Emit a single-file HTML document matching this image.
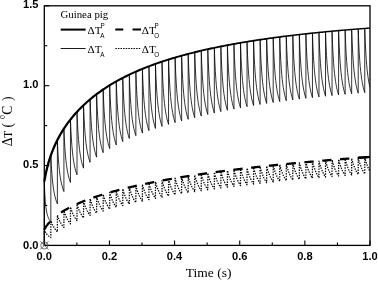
<!DOCTYPE html>
<html><head><meta charset="utf-8"><title>Guinea pig</title>
<style>
html,body{margin:0;padding:0;background:#fff;}
body{width:378px;height:281px;overflow:hidden;}
svg{display:block;will-change:transform;}
.tk text{font-family:"Liberation Sans",sans-serif;font-weight:bold;font-size:11.1px;fill:#000;}
.sf{font-family:"Liberation Serif",serif;fill:#000;}
.ss{font-family:"Liberation Sans",sans-serif;fill:#000;}
</style></head><body>
<svg width="378" height="281" viewBox="0 0 378 281">
<rect width="378" height="281" fill="#fff"/>
<g fill="none" stroke="#000" stroke-linejoin="round">
<path stroke-width="0.8" d="M44.30,245.40 L44.30,181.50 L44.80,194.08 L45.31,201.56 L45.81,206.51 L46.31,210.03 L46.82,212.66 L47.32,214.70 L47.82,216.33 L48.32,217.66 L48.83,218.77 L49.33,219.71 L49.83,220.51 L50.34,221.21 L50.84,221.82 L50.84,155.38 L51.34,165.64 L51.85,173.29 L52.35,179.21 L52.85,183.93 L53.36,187.78 L53.86,190.98 L54.36,193.68 L54.86,195.99 L55.37,197.99 L55.87,199.74 L56.37,201.28 L56.88,202.65 L57.38,203.87 L57.38,139.99 L57.88,150.91 L58.39,159.05 L58.89,165.35 L59.39,170.37 L59.90,174.47 L60.40,177.87 L60.90,180.75 L61.40,183.21 L61.91,185.34 L62.41,187.20 L62.91,188.83 L63.42,190.29 L63.92,191.59 L63.92,128.66 L64.42,140.05 L64.93,148.54 L65.43,155.12 L65.93,160.35 L66.44,164.63 L66.94,168.18 L67.44,171.18 L67.94,173.74 L68.45,175.96 L68.95,177.90 L69.45,179.61 L69.96,181.13 L70.46,182.49 L70.46,119.55 L70.96,131.25 L71.47,139.97 L71.97,146.72 L72.47,152.09 L72.98,156.48 L73.48,160.13 L73.98,163.20 L74.48,165.84 L74.99,168.12 L75.49,170.11 L75.99,171.86 L76.50,173.42 L77.00,174.82 L77.00,111.88 L77.50,123.79 L78.01,132.67 L78.51,139.54 L79.01,145.02 L79.52,149.49 L80.02,153.20 L80.52,156.34 L81.02,159.02 L81.53,161.34 L82.03,163.37 L82.53,165.15 L83.04,166.74 L83.54,168.16 L83.54,105.23 L84.04,117.31 L84.55,126.31 L85.05,133.28 L85.55,138.83 L86.06,143.36 L86.56,147.13 L87.06,150.31 L87.56,153.03 L88.07,155.38 L88.57,157.44 L89.07,159.25 L89.58,160.86 L90.08,162.30 L90.08,99.37 L90.58,111.60 L91.09,120.72 L91.59,127.78 L92.09,133.41 L92.60,138.00 L93.10,141.81 L93.60,145.03 L94.10,147.79 L94.61,150.17 L95.11,152.26 L95.61,154.09 L96.12,155.72 L96.62,157.18 L96.62,94.15 L97.12,106.54 L97.63,115.77 L98.13,122.92 L98.63,128.61 L99.14,133.26 L99.64,137.12 L100.14,140.38 L100.64,143.17 L101.15,145.58 L101.65,147.69 L102.15,149.55 L102.66,151.20 L103.16,152.67 L103.16,89.48 L103.66,102.00 L104.17,111.32 L104.67,118.55 L105.17,124.30 L105.68,128.99 L106.18,132.90 L106.68,136.19 L107.18,139.01 L107.69,141.45 L108.19,143.58 L108.69,145.46 L109.20,147.13 L109.70,148.62 L109.70,85.25 L110.20,97.88 L110.71,107.30 L111.21,114.59 L111.71,120.40 L112.22,125.13 L112.72,129.07 L113.22,132.40 L113.72,135.24 L114.23,137.70 L114.73,139.85 L115.23,141.75 L115.74,143.43 L116.24,144.94 L116.24,81.40 L116.74,94.14 L117.25,103.64 L117.75,110.98 L118.25,116.84 L118.76,121.62 L119.26,125.59 L119.76,128.94 L120.26,131.81 L120.77,134.29 L121.27,136.46 L121.77,138.37 L122.28,140.07 L122.78,141.59 L122.78,77.88 L123.28,90.71 L123.79,100.28 L124.29,107.68 L124.79,113.59 L125.30,118.40 L125.80,122.40 L126.30,125.78 L126.80,128.67 L127.31,131.17 L127.81,133.35 L128.31,135.28 L128.82,136.99 L129.32,138.52 L129.32,74.64 L129.82,87.56 L130.33,97.20 L130.83,104.65 L131.33,110.59 L131.84,115.44 L132.34,119.47 L132.84,122.87 L133.34,125.78 L133.85,128.30 L134.35,130.50 L134.85,132.44 L135.36,134.16 L135.86,135.70 L135.86,71.65 L136.36,84.65 L136.87,94.35 L137.37,101.85 L137.87,107.83 L138.38,112.71 L138.88,116.76 L139.38,120.18 L139.88,123.11 L140.39,125.65 L140.89,127.86 L141.39,129.81 L141.90,131.54 L142.40,133.09 L142.40,68.87 L142.90,81.96 L143.41,91.71 L143.91,99.25 L144.41,105.27 L144.92,110.17 L145.42,114.25 L145.92,117.70 L146.42,120.64 L146.93,123.19 L147.43,125.42 L147.93,127.38 L148.44,129.13 L148.94,130.68 L148.94,66.29 L149.44,79.45 L149.95,89.25 L150.45,96.84 L150.95,102.89 L151.46,107.82 L151.96,111.92 L152.46,115.39 L152.96,118.35 L153.47,120.91 L153.97,123.15 L154.47,125.13 L154.98,126.88 L155.48,128.45 L155.48,63.88 L155.98,77.11 L156.49,86.97 L156.99,94.59 L157.49,100.67 L158.00,105.63 L158.50,109.76 L159.00,113.24 L159.50,116.22 L160.01,118.79 L160.51,121.04 L161.01,123.03 L161.52,124.79 L162.02,126.37 L162.02,61.63 L162.52,74.92 L163.03,84.83 L163.53,92.50 L164.03,98.61 L164.54,103.59 L165.04,107.73 L165.54,111.23 L166.04,114.23 L166.55,116.82 L167.05,119.08 L167.55,121.07 L168.06,122.84 L168.56,124.43 L168.56,59.52 L169.06,72.88 L169.57,82.83 L170.07,90.53 L170.57,96.67 L171.08,101.68 L171.58,105.84 L172.08,109.36 L172.58,112.37 L173.09,114.97 L173.59,117.24 L174.09,119.25 L174.60,121.03 L175.10,122.62 L175.10,57.54 L175.60,70.95 L176.11,80.95 L176.61,88.69 L177.11,94.86 L177.62,99.89 L178.12,104.07 L178.62,107.60 L179.12,110.62 L179.63,113.24 L180.13,115.52 L180.63,117.54 L181.14,119.32 L181.64,120.92 L181.64,55.67 L182.14,69.15 L182.65,79.19 L183.15,86.96 L183.65,93.16 L184.16,98.21 L184.66,102.41 L185.16,105.96 L185.66,108.99 L186.17,111.62 L186.67,113.91 L187.17,115.93 L187.68,117.73 L188.18,119.33 L188.18,53.91 L188.68,67.42 L189.19,77.48 L189.69,85.27 L190.19,91.48 L190.70,96.54 L191.20,100.75 L191.70,104.30 L192.20,107.34 L192.71,109.97 L193.21,112.27 L193.71,114.30 L194.22,116.10 L194.72,117.71 L194.72,52.25 L195.22,65.76 L195.73,75.83 L196.23,83.62 L196.73,89.83 L197.24,94.90 L197.74,99.11 L198.24,102.66 L198.74,105.70 L199.25,108.34 L199.75,110.64 L200.25,112.66 L200.76,114.46 L201.26,116.07 L201.26,50.68 L201.76,64.20 L202.27,74.27 L202.77,82.06 L203.27,88.27 L203.78,93.34 L204.28,97.55 L204.78,101.11 L205.28,104.15 L205.79,106.78 L206.29,109.08 L206.79,111.11 L207.30,112.91 L207.80,114.52 L207.80,49.20 L208.30,62.71 L208.81,72.79 L209.31,80.58 L209.81,86.79 L210.32,91.86 L210.82,96.08 L211.32,99.63 L211.82,102.68 L212.33,105.31 L212.83,107.61 L213.33,109.64 L213.84,111.44 L214.34,113.05 L214.34,47.79 L214.84,61.31 L215.35,71.38 L215.85,79.18 L216.35,85.39 L216.86,90.46 L217.36,94.67 L217.86,98.23 L218.36,101.27 L218.87,103.91 L219.37,106.21 L219.87,108.24 L220.38,110.04 L220.88,111.65 L220.88,46.45 L221.38,59.97 L221.89,70.04 L222.39,77.84 L222.89,84.05 L223.40,89.12 L223.90,93.34 L224.40,96.89 L224.90,99.94 L225.41,102.57 L225.91,104.87 L226.41,106.90 L226.92,108.70 L227.42,110.31 L227.42,45.18 L227.92,58.70 L228.43,68.77 L228.93,76.57 L229.43,82.78 L229.94,87.85 L230.44,92.06 L230.94,95.62 L231.44,98.66 L231.95,101.30 L232.45,103.60 L232.95,105.63 L233.46,107.43 L233.96,109.04 L233.96,43.97 L234.46,57.49 L234.97,67.56 L235.47,75.36 L235.97,81.57 L236.48,86.64 L236.98,90.85 L237.48,94.41 L237.98,97.45 L238.49,100.08 L238.99,102.38 L239.49,104.41 L240.00,106.21 L240.50,107.82 L240.50,42.82 L241.00,56.33 L241.51,66.40 L242.01,74.20 L242.51,80.41 L243.02,85.48 L243.52,89.69 L244.02,93.25 L244.52,96.29 L245.03,98.92 L245.53,101.22 L246.03,103.25 L246.54,105.05 L247.04,106.66 L247.04,41.72 L247.54,55.23 L248.05,65.30 L248.55,73.10 L249.05,79.31 L249.56,84.37 L250.06,88.59 L250.56,92.14 L251.06,95.18 L251.57,97.82 L252.07,100.12 L252.57,102.14 L253.08,103.94 L253.58,105.55 L253.58,40.68 L254.08,54.18 L254.59,64.25 L255.09,72.04 L255.59,78.25 L256.10,83.32 L256.60,87.53 L257.10,91.08 L257.60,94.12 L258.11,96.76 L258.61,99.06 L259.11,101.08 L259.62,102.88 L260.12,104.49 L260.12,39.68 L260.62,53.18 L261.13,63.25 L261.63,71.04 L262.13,77.24 L262.64,82.31 L263.14,86.52 L263.64,90.07 L264.14,93.11 L264.65,95.74 L265.15,98.04 L265.65,100.07 L266.16,101.87 L266.66,103.47 L266.66,38.73 L267.16,52.23 L267.67,62.29 L268.17,70.07 L268.67,76.28 L269.18,81.34 L269.68,85.55 L270.18,89.10 L270.68,92.14 L271.19,94.77 L271.69,97.07 L272.19,99.10 L272.70,100.90 L273.20,102.50 L273.20,37.82 L273.70,51.32 L274.21,61.38 L274.71,69.17 L275.21,75.37 L275.72,80.44 L276.22,84.64 L276.72,88.20 L277.22,91.24 L277.73,93.87 L278.23,96.17 L278.73,98.19 L279.24,99.99 L279.74,101.60 L279.74,36.94 L280.24,50.45 L280.75,60.51 L281.25,68.30 L281.75,74.51 L282.26,79.57 L282.76,83.78 L283.26,87.33 L283.76,90.37 L284.27,93.00 L284.77,95.30 L285.27,97.33 L285.78,99.13 L286.28,100.74 L286.28,36.11 L286.78,49.62 L287.29,59.68 L287.79,67.47 L288.29,73.68 L288.80,78.74 L289.30,82.95 L289.80,86.50 L290.30,89.54 L290.81,92.17 L291.31,94.47 L291.81,96.50 L292.32,98.30 L292.82,99.91 L292.82,35.31 L293.32,48.82 L293.83,58.88 L294.33,66.67 L294.83,72.88 L295.34,77.94 L295.84,82.15 L296.34,85.71 L296.84,88.75 L297.35,91.38 L297.85,93.68 L298.35,95.70 L298.86,97.50 L299.36,99.11 L299.36,34.55 L299.86,48.06 L300.37,58.12 L300.87,65.91 L301.37,72.12 L301.88,77.18 L302.38,81.39 L302.88,84.94 L303.38,87.98 L303.89,90.61 L304.39,92.91 L304.89,94.94 L305.40,96.74 L305.90,98.35 L305.90,33.82 L306.40,47.32 L306.91,57.39 L307.41,65.18 L307.91,71.38 L308.42,76.45 L308.92,80.66 L309.42,84.21 L309.92,87.25 L310.43,89.88 L310.93,92.18 L311.43,94.21 L311.94,96.01 L312.44,97.61 L312.44,33.12 L312.94,46.62 L313.45,56.69 L313.95,64.47 L314.45,70.68 L314.96,75.74 L315.46,79.95 L315.96,83.51 L316.46,86.55 L316.97,89.18 L317.47,91.48 L317.97,93.50 L318.48,95.30 L318.98,96.91 L318.98,32.45 L319.48,45.95 L319.99,56.01 L320.49,63.80 L320.99,70.01 L321.50,75.07 L322.00,79.28 L322.50,82.83 L323.00,85.87 L323.51,88.50 L324.01,90.80 L324.51,92.83 L325.02,94.63 L325.52,96.23 L325.52,31.80 L326.02,45.30 L326.53,55.37 L327.03,63.15 L327.53,69.36 L328.04,74.42 L328.54,78.63 L329.04,82.18 L329.54,85.22 L330.05,87.85 L330.55,90.15 L331.05,92.18 L331.56,93.98 L332.06,95.58 L332.06,31.18 L332.56,44.68 L333.07,54.74 L333.57,62.53 L334.07,68.74 L334.58,73.80 L335.08,78.01 L335.58,81.56 L336.08,84.60 L336.59,87.23 L337.09,89.53 L337.59,91.55 L338.10,93.35 L338.60,94.96 L338.60,30.59 L339.10,44.09 L339.61,54.15 L340.11,61.93 L340.61,68.14 L341.12,73.20 L341.62,77.41 L342.12,80.96 L342.62,84.00 L343.13,86.63 L343.63,88.93 L344.13,90.95 L344.64,92.75 L345.14,94.36 L345.14,30.02 L345.64,43.52 L346.15,53.58 L346.65,61.36 L347.15,67.56 L347.66,72.62 L348.16,76.83 L348.66,80.38 L349.16,83.42 L349.67,86.05 L350.17,88.35 L350.67,90.37 L351.18,92.17 L351.68,93.78 L351.68,29.48 L352.18,42.97 L352.69,53.03 L353.19,60.81 L353.69,67.01 L354.20,72.07 L354.70,76.28 L355.20,79.83 L355.70,82.87 L356.21,85.49 L356.71,87.79 L357.21,89.82 L357.72,91.61 L358.22,93.22 L358.22,28.95 L358.72,42.44 L359.23,52.50 L359.73,60.28 L360.23,66.48 L360.74,71.54 L361.24,75.74 L361.74,79.29 L362.24,82.33 L362.75,84.96 L363.25,87.26 L363.75,89.28 L364.26,91.08 L364.76,92.69 L364.76,28.45 L365.26,41.94 L365.77,51.99 L366.27,59.77 L366.77,65.97 L367.28,71.03 L367.78,75.23 L368.28,78.78 L368.78,81.82 L369.29,84.45 L369.79,86.75"/>
<path stroke-width="1.25" stroke-dasharray="1.4 1.2" d="M44.30,245.40 L44.30,229.43 L45.23,231.68 L46.17,233.31 L47.10,234.55 L48.04,235.51 L48.97,236.29 L49.91,236.93 L50.84,237.47 L50.84,220.86 L51.77,223.23 L52.71,225.23 L53.64,226.93 L54.58,228.39 L55.51,229.67 L56.45,230.79 L57.38,231.78 L57.38,215.17 L58.31,217.82 L59.25,220.05 L60.18,221.95 L61.12,223.59 L62.05,225.02 L62.99,226.27 L63.92,227.38 L63.92,210.77 L64.85,213.59 L65.79,215.96 L66.72,217.98 L67.66,219.72 L68.59,221.23 L69.53,222.57 L70.46,223.75 L70.46,207.13 L71.39,210.06 L72.33,212.53 L73.26,214.62 L74.20,216.43 L75.13,218.01 L76.07,219.39 L77.00,220.61 L77.00,204.00 L77.93,207.01 L78.87,209.54 L79.80,211.70 L80.74,213.55 L81.67,215.17 L82.61,216.59 L83.54,217.85 L83.54,201.24 L84.47,204.31 L85.41,206.89 L86.34,209.09 L87.28,210.99 L88.21,212.64 L89.15,214.09 L90.08,215.37 L90.08,198.76 L91.01,201.88 L91.95,204.50 L92.88,206.73 L93.82,208.66 L94.75,210.33 L95.69,211.81 L96.62,213.11 L96.62,196.50 L97.55,199.66 L98.49,202.31 L99.42,204.57 L100.36,206.52 L101.29,208.22 L102.23,209.71 L103.16,211.03 L103.16,194.42 L104.09,197.61 L105.03,200.30 L105.96,202.58 L106.90,204.55 L107.83,206.26 L108.77,207.77 L109.70,209.11 L109.70,192.49 L110.63,195.71 L111.57,198.42 L112.50,200.72 L113.44,202.71 L114.37,204.44 L115.31,205.96 L116.24,207.31 L116.24,190.69 L117.17,193.94 L118.11,196.66 L119.04,198.98 L119.98,200.98 L120.91,202.73 L121.85,204.26 L122.78,205.62 L122.78,189.00 L123.71,192.27 L124.65,195.01 L125.58,197.35 L126.52,199.36 L127.45,201.11 L128.39,202.66 L129.32,204.02 L129.32,187.41 L130.25,190.69 L131.19,193.45 L132.12,195.80 L133.06,197.82 L133.99,199.59 L134.93,201.14 L135.86,202.51 L135.86,185.90 L136.79,189.20 L137.73,191.97 L138.66,194.33 L139.60,196.37 L140.53,198.14 L141.47,199.70 L142.40,201.08 L142.40,184.46 L143.33,187.78 L144.27,190.56 L145.20,192.94 L146.14,194.98 L147.07,196.76 L148.01,198.33 L148.94,199.71 L148.94,183.10 L149.87,186.43 L150.81,189.23 L151.74,191.61 L152.68,193.66 L153.61,195.45 L154.55,197.02 L155.48,198.41 L155.48,181.80 L156.41,185.14 L157.35,187.95 L158.28,190.34 L159.22,192.40 L160.15,194.20 L161.09,195.78 L162.02,197.17 L162.02,180.56 L162.95,183.91 L163.89,186.73 L164.82,189.13 L165.76,191.20 L166.69,193.00 L167.63,194.58 L168.56,195.99 L168.56,179.37 L169.49,182.74 L170.43,185.56 L171.36,187.97 L172.30,190.05 L173.23,191.85 L174.17,193.44 L175.10,194.85 L175.10,178.24 L176.03,181.61 L176.97,184.44 L177.90,186.86 L178.84,188.94 L179.77,190.75 L180.71,192.35 L181.64,193.76 L181.64,177.15 L182.57,180.53 L183.51,183.37 L184.44,185.79 L185.38,187.88 L186.31,189.70 L187.25,191.29 L188.18,192.71 L188.18,176.10 L189.11,179.49 L190.05,182.34 L190.98,184.77 L191.92,186.86 L192.85,188.68 L193.79,190.28 L194.72,191.70 L194.72,175.09 L195.65,178.49 L196.59,181.35 L197.52,183.78 L198.46,185.88 L199.39,187.70 L200.33,189.31 L201.26,190.73 L201.26,174.12 L202.19,177.53 L203.13,180.39 L204.06,182.83 L205.00,184.93 L205.93,186.76 L206.87,188.37 L207.80,189.79 L207.80,173.18 L208.73,176.60 L209.67,179.46 L210.60,181.91 L211.54,184.01 L212.47,185.85 L213.41,187.46 L214.34,188.89 L214.34,172.28 L215.27,175.70 L216.21,178.57 L217.14,181.02 L218.08,183.13 L219.01,184.97 L219.95,186.59 L220.88,188.02 L220.88,171.40 L221.81,174.83 L222.75,177.71 L223.68,180.16 L224.62,182.28 L225.55,184.12 L226.49,185.74 L227.42,187.17 L227.42,170.56 L228.35,173.99 L229.29,176.88 L230.22,179.33 L231.16,181.45 L232.09,183.30 L233.03,184.92 L233.96,186.35 L233.96,169.74 L234.89,173.18 L235.83,176.07 L236.76,178.53 L237.70,180.65 L238.63,182.50 L239.57,184.12 L240.50,185.56 L240.50,168.95 L241.43,172.39 L242.37,175.29 L243.30,177.75 L244.24,179.88 L245.17,181.73 L246.11,183.35 L247.04,184.79 L247.04,168.18 L247.97,171.63 L248.91,174.53 L249.84,177.00 L250.78,179.12 L251.71,180.98 L252.65,182.61 L253.58,184.05 L253.58,167.44 L254.51,170.89 L255.45,173.79 L256.38,176.26 L257.32,178.39 L258.25,180.25 L259.19,181.88 L260.12,183.32 L260.12,166.71 L261.05,170.17 L261.99,173.08 L262.92,175.55 L263.86,177.68 L264.79,179.54 L265.73,181.17 L266.66,182.62 L266.66,166.01 L267.59,169.47 L268.53,172.38 L269.46,174.86 L270.40,176.99 L271.33,178.85 L272.27,180.49 L273.20,181.94 L273.20,165.32 L274.13,168.79 L275.07,171.70 L276.00,174.18 L276.94,176.32 L277.87,178.18 L278.81,179.82 L279.74,181.27 L279.74,164.66 L280.67,168.13 L281.61,171.04 L282.54,173.53 L283.48,175.67 L284.41,177.53 L285.35,179.17 L286.28,180.62 L286.28,164.01 L287.21,167.49 L288.15,170.40 L289.08,172.89 L290.02,175.03 L290.95,176.90 L291.89,178.54 L292.82,179.99 L292.82,163.38 L293.75,166.86 L294.69,169.78 L295.62,172.27 L296.56,174.41 L297.49,176.28 L298.43,177.92 L299.36,179.38 L299.36,162.76 L300.29,166.25 L301.23,169.17 L302.16,171.66 L303.10,173.81 L304.03,175.68 L304.97,177.32 L305.90,178.78 L305.90,162.17 L306.83,165.65 L307.77,168.58 L308.70,171.07 L309.64,173.22 L310.57,175.09 L311.51,176.74 L312.44,178.19 L312.44,161.58 L313.37,165.07 L314.31,168.00 L315.24,170.49 L316.18,172.64 L317.11,174.52 L318.05,176.16 L318.98,177.62 L318.98,161.01 L319.91,164.50 L320.85,167.43 L321.78,169.93 L322.72,172.08 L323.65,173.96 L324.59,175.60 L325.52,177.06 L325.52,160.45 L326.45,163.94 L327.39,166.88 L328.32,169.38 L329.26,171.53 L330.19,173.41 L331.13,175.06 L332.06,176.52 L332.06,159.91 L332.99,163.40 L333.93,166.34 L334.86,168.84 L335.80,171.00 L336.73,172.87 L337.67,174.52 L338.60,175.99 L338.60,159.37 L339.53,162.87 L340.47,165.81 L341.40,168.31 L342.34,170.47 L343.27,172.35 L344.21,174.00 L345.14,175.47 L345.14,158.85 L346.07,162.35 L347.01,165.29 L347.94,167.80 L348.88,169.96 L349.81,171.84 L350.75,173.49 L351.68,174.96 L351.68,158.34 L352.61,161.85 L353.55,164.79 L354.48,167.30 L355.42,169.46 L356.35,171.34 L357.29,172.99 L358.22,174.46 L358.22,157.85 L359.15,161.35 L360.09,164.30 L361.02,166.80 L361.96,168.97 L362.89,170.85 L363.83,172.51 L364.76,173.97 L364.76,157.36 L365.69,160.87 L366.63,163.81 L367.56,166.32 L368.50,168.49 L369.43,170.37"/>
<path stroke="none" fill="#000" d="M45.43,181.71 L46.52,175.77 L47.60,170.76 L48.68,166.39 L49.76,162.50 L50.83,158.98 L51.91,155.76 L52.99,152.79 L54.07,150.03 L55.15,147.44 L56.23,145.00 L57.30,142.70 L58.38,140.52 L59.46,138.44 L60.54,136.45 L61.61,134.55 L62.69,132.73 L63.77,130.98 L64.85,129.29 L65.93,127.66 L67.00,126.09 L68.08,124.56 L69.16,123.09 L70.24,121.65 L71.32,120.26 L72.40,118.91 L73.48,117.59 L74.55,116.31 L75.63,115.06 L76.71,113.84 L77.79,112.65 L78.87,111.49 L79.95,110.35 L81.03,109.24 L82.11,108.15 L83.19,107.09 L84.27,106.04 L85.35,105.02 L86.43,104.02 L87.51,103.04 L88.59,102.08 L89.67,101.14 L90.75,100.22 L91.83,99.32 L92.91,98.43 L93.99,97.56 L95.07,96.70 L96.15,95.86 L97.24,95.04 L98.32,94.23 L99.40,93.44 L100.48,92.65 L101.56,91.89 L102.64,91.13 L103.72,90.39 L104.80,89.66 L105.89,88.94 L106.97,88.23 L108.05,87.54 L109.13,86.85 L110.21,86.18 L111.30,85.51 L112.38,84.86 L113.46,84.22 L114.54,83.58 L115.63,82.96 L116.71,82.34 L117.79,81.74 L118.87,81.14 L119.96,80.55 L121.04,79.97 L122.12,79.39 L123.21,78.83 L124.29,78.27 L125.37,77.72 L126.46,77.18 L127.54,76.65 L128.63,76.12 L129.71,75.60 L130.79,75.08 L131.88,74.57 L132.96,74.07 L134.05,73.58 L135.13,73.09 L136.21,72.61 L137.30,72.13 L138.38,71.66 L139.47,71.20 L140.55,70.74 L141.64,70.28 L142.72,69.84 L143.81,69.39 L144.89,68.95 L145.98,68.52 L147.06,68.09 L148.15,67.67 L149.23,67.25 L150.32,66.84 L151.40,66.43 L152.49,66.03 L153.57,65.63 L154.66,65.24 L155.74,64.85 L156.83,64.46 L157.91,64.08 L159.00,63.70 L160.08,63.33 L161.17,62.96 L162.26,62.59 L163.34,62.23 L164.43,61.87 L165.51,61.52 L166.60,61.17 L167.69,60.82 L168.77,60.48 L169.86,60.14 L170.94,59.80 L172.03,59.47 L173.12,59.14 L174.20,58.82 L175.29,58.49 L176.38,58.17 L177.46,57.86 L178.55,57.54 L179.63,57.23 L180.72,56.93 L181.81,56.62 L182.89,56.32 L183.98,56.02 L185.07,55.73 L186.15,55.44 L187.24,55.15 L188.33,54.86 L189.41,54.57 L190.50,54.29 L191.59,54.01 L192.68,53.74 L193.76,53.46 L194.85,53.19 L195.94,52.92 L197.02,52.66 L198.11,52.39 L199.20,52.13 L200.28,51.87 L201.37,51.62 L202.46,51.36 L203.55,51.11 L204.63,50.86 L205.72,50.61 L206.81,50.37 L207.89,50.12 L208.98,49.88 L210.07,49.64 L211.16,49.41 L212.24,49.17 L213.33,48.94 L214.42,48.71 L215.51,48.48 L216.59,48.25 L217.68,48.03 L218.77,47.80 L219.86,47.58 L220.94,47.36 L222.03,47.14 L223.12,46.93 L224.21,46.71 L225.29,46.50 L226.38,46.29 L227.47,46.08 L228.56,45.88 L229.64,45.67 L230.73,45.47 L231.82,45.27 L232.91,45.06 L234.00,44.87 L235.08,44.67 L236.17,44.47 L237.26,44.28 L238.35,44.09 L239.43,43.90 L240.52,43.71 L241.61,43.52 L242.70,43.33 L243.79,43.15 L244.87,42.97 L245.96,42.78 L247.05,42.60 L248.14,42.42 L249.23,42.25 L250.31,42.07 L251.40,41.89 L252.49,41.72 L253.58,41.55 L254.67,41.38 L255.75,41.21 L256.84,41.04 L257.93,40.87 L259.02,40.71 L260.11,40.54 L261.19,40.38 L262.28,40.22 L263.37,40.06 L264.46,39.90 L265.55,39.74 L266.64,39.58 L267.72,39.42 L268.81,39.27 L269.90,39.12 L270.99,38.96 L272.08,38.81 L273.17,38.66 L274.25,38.51 L275.34,38.36 L276.43,38.22 L277.52,38.07 L278.61,37.93 L279.69,37.78 L280.78,37.64 L281.87,37.50 L282.96,37.36 L284.05,37.22 L285.14,37.08 L286.23,36.94 L287.31,36.80 L288.40,36.67 L289.49,36.53 L290.58,36.40 L291.67,36.27 L292.76,36.14 L293.84,36.00 L294.93,35.87 L296.02,35.74 L297.11,35.62 L298.20,35.49 L299.29,35.36 L300.37,35.24 L301.46,35.11 L302.55,34.99 L303.64,34.87 L304.73,34.74 L305.82,34.62 L306.91,34.50 L307.99,34.38 L309.08,34.26 L310.17,34.15 L311.26,34.03 L312.35,33.91 L313.44,33.80 L314.53,33.68 L315.61,33.57 L316.70,33.46 L317.79,33.34 L318.88,33.23 L319.97,33.12 L321.06,33.01 L322.15,32.90 L323.23,32.79 L324.32,32.69 L325.41,32.58 L326.50,32.47 L327.59,32.37 L328.68,32.26 L329.77,32.16 L330.86,32.05 L331.94,31.95 L333.03,31.85 L334.12,31.75 L335.21,31.65 L336.30,31.55 L337.39,31.45 L338.48,31.35 L339.56,31.25 L340.65,31.15 L341.74,31.06 L342.83,30.96 L343.92,30.87 L345.01,30.77 L346.10,30.68 L347.19,30.58 L348.27,30.49 L349.36,30.40 L350.45,30.31 L351.54,30.22 L352.63,30.12 L353.72,30.03 L354.81,29.95 L355.90,29.86 L356.99,29.77 L358.07,29.68 L359.16,29.59 L360.25,29.51 L361.34,29.42 L362.43,29.34 L363.52,29.25 L364.61,29.17 L365.70,29.08 L366.78,29.00 L367.87,28.92 L368.96,28.84 L370.05,28.76 L369.95,27.36 L368.86,27.44 L367.77,27.52 L366.68,27.60 L365.59,27.68 L364.50,27.76 L363.41,27.84 L362.32,27.92 L361.23,28.00 L360.14,28.08 L359.05,28.17 L357.96,28.25 L356.87,28.34 L355.78,28.42 L354.69,28.51 L353.60,28.59 L352.51,28.68 L351.42,28.77 L350.33,28.86 L349.24,28.95 L348.15,29.04 L347.06,29.13 L345.97,29.22 L344.88,29.31 L343.79,29.40 L342.70,29.49 L341.61,29.58 L340.52,29.68 L339.43,29.77 L338.34,29.87 L337.25,29.96 L336.16,30.06 L335.07,30.16 L333.98,30.26 L332.90,30.35 L331.81,30.45 L330.72,30.55 L329.63,30.65 L328.54,30.75 L327.45,30.86 L326.36,30.96 L325.27,31.06 L324.18,31.17 L323.09,31.27 L322.00,31.38 L320.91,31.48 L319.82,31.59 L318.73,31.70 L317.64,31.81 L316.55,31.92 L315.46,32.03 L314.37,32.14 L313.28,32.25 L312.19,32.36 L311.10,32.48 L310.01,32.59 L308.92,32.70 L307.83,32.82 L306.74,32.94 L305.65,33.05 L304.56,33.17 L303.47,33.29 L302.38,33.41 L301.29,33.53 L300.20,33.65 L299.11,33.78 L298.01,33.90 L296.92,34.03 L295.83,34.15 L294.74,34.28 L293.65,34.40 L292.56,34.53 L291.47,34.66 L290.38,34.79 L289.29,34.92 L288.20,35.05 L287.11,35.19 L286.02,35.32 L284.93,35.46 L283.84,35.59 L282.75,35.73 L281.66,35.87 L280.57,36.01 L279.48,36.15 L278.39,36.29 L277.30,36.43 L276.21,36.57 L275.12,36.72 L274.03,36.86 L272.94,37.01 L271.85,37.16 L270.76,37.31 L269.67,37.46 L268.58,37.61 L267.49,37.76 L266.40,37.91 L265.31,38.07 L264.22,38.22 L263.13,38.38 L262.04,38.54 L260.95,38.70 L259.86,38.86 L258.76,39.02 L257.67,39.18 L256.58,39.35 L255.49,39.51 L254.40,39.68 L253.31,39.85 L252.22,40.02 L251.13,40.19 L250.04,40.36 L248.95,40.53 L247.86,40.71 L246.77,40.89 L245.68,41.06 L244.59,41.24 L243.50,41.42 L242.41,41.61 L241.32,41.79 L240.22,41.97 L239.13,42.16 L238.04,42.35 L236.95,42.54 L235.86,42.73 L234.77,42.92 L233.68,43.12 L232.59,43.31 L231.50,43.51 L230.41,43.71 L229.32,43.91 L228.23,44.12 L227.13,44.32 L226.04,44.53 L224.95,44.73 L223.86,44.94 L222.77,45.16 L221.68,45.37 L220.59,45.58 L219.50,45.80 L218.41,46.02 L217.32,46.24 L216.22,46.46 L215.13,46.69 L214.04,46.92 L212.95,47.14 L211.86,47.37 L210.77,47.61 L209.68,47.84 L208.59,48.08 L207.49,48.32 L206.40,48.56 L205.31,48.80 L204.22,49.05 L203.13,49.30 L202.04,49.55 L200.95,49.80 L199.85,50.05 L198.76,50.31 L197.67,50.57 L196.58,50.83 L195.49,51.10 L194.40,51.36 L193.31,51.63 L192.21,51.90 L191.12,52.18 L190.03,52.46 L188.94,52.74 L187.85,53.02 L186.75,53.30 L185.66,53.59 L184.57,53.88 L183.48,54.18 L182.39,54.47 L181.30,54.77 L180.20,55.07 L179.11,55.38 L178.02,55.69 L176.93,56.00 L175.83,56.31 L174.74,56.63 L173.65,56.95 L172.56,57.28 L171.47,57.61 L170.37,57.94 L169.28,58.27 L168.19,58.61 L167.10,58.95 L166.00,59.30 L164.91,59.65 L163.82,60.00 L162.72,60.36 L161.63,60.72 L160.54,61.08 L159.45,61.45 L158.35,61.82 L157.26,62.20 L156.17,62.58 L155.07,62.97 L153.98,63.36 L152.89,63.75 L151.79,64.15 L150.70,64.55 L149.61,64.96 L148.51,65.38 L147.42,65.79 L146.33,66.22 L145.23,66.64 L144.14,67.08 L143.05,67.51 L141.95,67.96 L140.86,68.41 L139.76,68.86 L138.67,69.32 L137.58,69.79 L136.48,70.26 L135.39,70.73 L134.29,71.22 L133.20,71.71 L132.11,72.20 L131.01,72.71 L129.92,73.22 L128.82,73.73 L127.73,74.25 L126.63,74.78 L125.54,75.32 L124.44,75.87 L123.35,76.42 L122.25,76.98 L121.16,77.55 L120.06,78.12 L118.97,78.71 L117.87,79.30 L116.77,79.90 L115.68,80.51 L114.58,81.13 L113.49,81.76 L112.39,82.40 L111.29,83.05 L110.20,83.70 L109.10,84.37 L108.01,85.05 L106.91,85.74 L105.81,86.44 L104.72,87.16 L103.62,87.88 L102.52,88.62 L101.42,89.37 L100.33,90.13 L99.23,90.91 L98.13,91.70 L97.04,92.50 L95.94,93.32 L94.84,94.15 L93.74,95.00 L92.64,95.87 L91.55,96.75 L90.45,97.65 L89.35,98.56 L88.25,99.49 L87.15,100.45 L86.05,101.42 L84.96,102.41 L83.86,103.42 L82.76,104.46 L81.66,105.51 L80.56,106.59 L79.46,107.70 L78.36,108.82 L77.26,109.98 L76.17,111.16 L75.07,112.37 L73.97,113.60 L72.87,114.87 L71.77,116.17 L70.67,117.51 L69.57,118.88 L68.47,120.30 L67.37,121.75 L66.27,123.25 L65.17,124.80 L64.07,126.41 L62.97,128.06 L61.87,129.78 L60.76,131.56 L59.66,133.42 L58.56,135.35 L57.46,137.38 L56.36,139.49 L55.26,141.72 L54.16,144.06 L53.06,146.54 L51.96,149.18 L50.86,151.99 L49.76,155.01 L48.66,158.29 L47.56,161.86 L46.46,165.81 L45.36,170.24 L44.26,175.32 L43.17,181.29Z"/>
<path stroke-width="2.3" d="M44.30,229.43 L45.11,228.07 L45.93,226.82 L46.74,225.67 L47.56,224.59 L48.37,223.59 L49.19,222.64 L50.00,221.74 L50.01,221.73"/><path stroke-width="2.3" stroke-dasharray="9.3 8.57" d="M61.03,212.60 L61.40,212.36 L62.21,211.83 L63.03,211.32 L63.84,210.82 L64.66,210.33 L65.47,209.85 L66.28,209.38 L67.10,208.93 L67.91,208.48 L68.73,208.04 L69.54,207.61 L70.36,207.19 L71.17,206.77 L71.98,206.36 L72.80,205.96 L73.61,205.57 L74.43,205.18 L75.24,204.80 L76.06,204.43 L76.87,204.06 L77.68,203.70 L78.50,203.34 L79.31,202.99 L80.13,202.64 L80.94,202.30 L81.76,201.96 L82.57,201.63 L83.38,201.30 L84.20,200.98 L85.01,200.66 L85.83,200.34 L86.64,200.03 L87.46,199.73 L88.27,199.42 L89.08,199.12 L89.90,198.82 L90.71,198.53 L91.53,198.24 L92.34,197.96 L93.16,197.67 L93.97,197.39 L94.78,197.11 L95.60,196.84 L96.41,196.57 L97.23,196.30 L98.04,196.03 L98.85,195.77 L99.67,195.51 L100.48,195.25 L101.30,195.00 L102.11,194.74 L102.93,194.49 L103.74,194.24 L104.55,194.00 L105.37,193.75 L106.18,193.51 L107.00,193.27 L107.81,193.04 L108.63,192.80 L109.44,192.57 L110.25,192.34 L111.07,192.11 L111.88,191.88 L112.70,191.65 L113.51,191.43 L114.33,191.21 L115.14,190.99 L115.95,190.77 L116.77,190.55 L117.58,190.34 L118.40,190.12 L119.21,189.91 L120.03,189.70 L120.84,189.49 L121.65,189.29 L122.47,189.08 L123.28,188.88 L124.10,188.67 L124.91,188.47 L125.72,188.27 L126.54,188.08 L127.35,187.88 L128.17,187.68 L128.98,187.49 L129.80,187.30 L130.61,187.10 L131.42,186.91 L132.24,186.72 L133.05,186.54 L133.87,186.35 L134.68,186.16 L135.50,185.98 L136.31,185.80 L137.12,185.62 L137.94,185.43 L138.75,185.25 L139.57,185.08 L140.38,184.90 L141.20,184.72 L142.01,184.55 L142.82,184.37 L143.64,184.20 L144.45,184.03 L145.27,183.86 L146.08,183.69 L146.90,183.52 L147.71,183.35 L148.52,183.19 L149.34,183.02 L150.15,182.86 L150.97,182.69 L151.78,182.53 L152.60,182.37 L153.41,182.21 L154.22,182.05 L155.04,181.89 L155.85,181.73 L156.67,181.57 L157.48,181.42 L158.30,181.26 L159.11,181.11 L159.92,180.95 L160.74,180.80 L161.55,180.65 L162.37,180.50 L163.18,180.35 L163.99,180.20 L164.81,180.05 L165.62,179.90 L166.44,179.75 L167.25,179.61 L168.07,179.46 L168.88,179.32 L169.69,179.17 L170.51,179.03 L171.32,178.89 L172.14,178.75 L172.95,178.60 L173.77,178.46 L174.58,178.33 L175.39,178.19 L176.21,178.05 L177.02,177.91 L177.84,177.77 L178.65,177.64 L179.47,177.50 L180.28,177.37 L181.09,177.23 L181.91,177.10 L182.72,176.97 L183.54,176.84 L184.35,176.71 L185.17,176.58 L185.98,176.45 L186.79,176.32 L187.61,176.19 L188.42,176.06 L189.24,175.93 L190.05,175.81 L190.87,175.68 L191.68,175.55 L192.49,175.43 L193.31,175.30 L194.12,175.18 L194.94,175.06 L195.75,174.93 L196.56,174.81 L197.38,174.69 L198.19,174.57 L199.01,174.45 L199.82,174.33 L200.64,174.21 L201.45,174.09 L202.26,173.97 L203.08,173.85 L203.89,173.74 L204.71,173.62 L205.52,173.50 L206.34,173.39 L207.15,173.27 L207.96,173.16 L208.78,173.04 L209.59,172.93 L210.41,172.82 L211.22,172.70 L212.04,172.59 L212.85,172.48 L213.66,172.37 L214.48,172.26 L215.29,172.15 L216.11,172.04 L216.92,171.93 L217.74,171.82 L218.55,171.71 L219.36,171.60 L220.18,171.50 L220.99,171.39 L221.81,171.28 L222.62,171.18 L223.44,171.07 L224.25,170.97 L225.06,170.86 L225.88,170.76 L226.69,170.65 L227.51,170.55 L228.32,170.45 L229.13,170.34 L229.95,170.24 L230.76,170.14 L231.58,170.04 L232.39,169.94 L233.21,169.83 L234.02,169.73 L234.83,169.63 L235.65,169.53 L236.46,169.44 L237.28,169.34 L238.09,169.24 L238.91,169.14 L239.72,169.04 L240.53,168.95 L241.35,168.85 L242.16,168.75 L242.98,168.66 L243.79,168.56 L244.61,168.46 L245.42,168.37 L246.23,168.27 L247.05,168.18 L247.86,168.09 L248.68,167.99 L249.49,167.90 L250.31,167.81 L251.12,167.71 L251.93,167.62 L252.75,167.53 L253.56,167.44 L254.38,167.35 L255.19,167.26 L256.00,167.16 L256.82,167.07 L257.63,166.98 L258.45,166.89 L259.26,166.81 L260.08,166.72 L260.89,166.63 L261.70,166.54 L262.52,166.45 L263.33,166.36 L264.15,166.28 L264.96,166.19 L265.78,166.10 L266.59,166.02 L267.40,165.93 L268.22,165.84 L269.03,165.76 L269.85,165.67 L270.66,165.59 L271.48,165.50 L272.29,165.42 L273.10,165.33 L273.92,165.25 L274.73,165.17 L275.55,165.08 L276.36,165.00 L277.18,164.92 L277.99,164.84 L278.80,164.75 L279.62,164.67 L280.43,164.59 L281.25,164.51 L282.06,164.43 L282.88,164.35 L283.69,164.27 L284.50,164.19 L285.32,164.11 L286.13,164.03 L286.95,163.95 L287.76,163.87 L288.57,163.79 L289.39,163.71 L290.20,163.63 L291.02,163.55 L291.83,163.47 L292.65,163.40 L293.46,163.32 L294.27,163.24 L295.09,163.16 L295.90,163.09 L296.72,163.01 L297.53,162.94 L298.35,162.86 L299.16,162.78 L299.97,162.71 L300.79,162.63 L301.60,162.56 L302.42,162.48 L303.23,162.41 L304.05,162.33 L304.86,162.26 L305.67,162.19 L306.49,162.11 L307.30,162.04 L308.12,161.97 L308.93,161.89 L309.75,161.82 L310.56,161.75 L311.37,161.67 L312.19,161.60 L313.00,161.53 L313.82,161.46 L314.63,161.39 L315.45,161.32 L316.26,161.24 L317.07,161.17 L317.89,161.10 L318.70,161.03 L319.52,160.96 L320.33,160.89 L321.14,160.82 L321.96,160.75 L322.77,160.68 L323.59,160.61 L324.40,160.55 L325.22,160.48 L326.03,160.41 L326.84,160.34 L327.66,160.27 L328.47,160.20 L329.29,160.14 L330.10,160.07 L330.92,160.00 L331.73,159.93 L332.54,159.87 L333.36,159.80 L334.17,159.73 L334.99,159.67 L335.80,159.60 L336.62,159.53 L337.43,159.47 L338.24,159.40 L339.06,159.34 L339.87,159.27 L340.69,159.21 L341.50,159.14 L342.32,159.08 L343.13,159.01 L343.94,158.95 L344.76,158.88 L345.57,158.82 L346.39,158.76 L347.20,158.69 L348.02,158.63 L348.83,158.57 L349.64,158.50 L350.46,158.44 L351.27,158.38 L352.09,158.31 L352.90,158.25 L353.72,158.19 L354.53,158.13 L355.34,158.06 L356.16,158.00 L356.97,157.94 L357.79,157.88 L358.60,157.82 L359.41,157.76 L360.23,157.70 L361.04,157.63 L361.86,157.57 L362.67,157.51 L363.49,157.45 L364.30,157.39 L365.11,157.33 L365.93,157.27 L366.74,157.21 L367.15,157.18"/><path stroke-width="2.3" d="M357.88,157.87 L358.60,157.82 L359.41,157.76 L360.23,157.70 L361.04,157.63 L361.86,157.57 L362.67,157.51 L363.49,157.45 L364.30,157.39 L365.11,157.33 L365.93,157.27 L366.74,157.21 L367.56,157.15 L368.37,157.09 L369.19,157.03 L370.00,156.98"/>
</g>
<g stroke="#000" stroke-width="1.3" fill="none">
<rect x="44.3" y="5.8" width="325.7" height="239.6"/>
</g>
<g stroke="#000" stroke-width="1.1"><line x1="44.30" y1="245.40" x2="44.30" y2="240.40"/><line x1="76.87" y1="245.40" x2="76.87" y2="242.40"/><line x1="109.44" y1="245.40" x2="109.44" y2="240.40"/><line x1="142.01" y1="245.40" x2="142.01" y2="242.40"/><line x1="174.58" y1="245.40" x2="174.58" y2="240.40"/><line x1="207.15" y1="245.40" x2="207.15" y2="242.40"/><line x1="239.72" y1="245.40" x2="239.72" y2="240.40"/><line x1="272.29" y1="245.40" x2="272.29" y2="242.40"/><line x1="304.86" y1="245.40" x2="304.86" y2="240.40"/><line x1="337.43" y1="245.40" x2="337.43" y2="242.40"/><line x1="370.00" y1="245.40" x2="370.00" y2="240.40"/><line x1="44.30" y1="245.40" x2="49.30" y2="245.40"/><line x1="44.30" y1="205.47" x2="47.30" y2="205.47"/><line x1="44.30" y1="165.53" x2="49.30" y2="165.53"/><line x1="44.30" y1="125.60" x2="47.30" y2="125.60"/><line x1="44.30" y1="85.67" x2="49.30" y2="85.67"/><line x1="44.30" y1="45.73" x2="47.30" y2="45.73"/><line x1="44.30" y1="5.80" x2="49.30" y2="5.80"/></g>
<g stroke="#666" stroke-width="0.9" fill="none" transform="translate(44.3,245.4)"><circle cx="0" cy="0" r="3.6"/><path d="M-4.1,-4.1 L4.1,4.1 M-4.1,4.1 L4.1,-4.1"/></g>
<g class="tk"><text x="44.30" y="259.8" text-anchor="middle">0.0</text><text x="109.44" y="259.8" text-anchor="middle">0.2</text><text x="174.58" y="259.8" text-anchor="middle">0.4</text><text x="239.72" y="259.8" text-anchor="middle">0.6</text><text x="304.86" y="259.8" text-anchor="middle">0.8</text><text x="370.00" y="259.8" text-anchor="middle">1.0</text><text x="38.4" y="248.50" text-anchor="end">0.0</text><text x="38.4" y="168.30" text-anchor="end">0.5</text><text x="38.4" y="88.30" text-anchor="end">1.0</text><text x="38.4" y="8.10" text-anchor="end">1.5</text></g>
<text class="sf" x="208.6" y="277" font-size="13.5" text-anchor="middle">Time (s)</text>
<g class="sf" font-size="13.7">
<text transform="translate(12.3,146.3) rotate(-90)">Δ</text>
<text transform="translate(12.3,138) rotate(-90) scale(0.86,0.97)">T</text>
<text transform="translate(12.3,127.4) rotate(-90)">(</text>
<text transform="translate(4.8,119) rotate(-90) scale(0.78,1)" font-size="10">o</text>
<text transform="translate(12.3,114.8) rotate(-90)">C</text>
<text transform="translate(12.3,101.1) rotate(-90)">)</text>
</g>
<text class="sf" x="60.5" y="17.7" font-size="10.8">Guinea pig</text>
<g stroke="#000" fill="none">
<line x1="60.7" y1="29.6" x2="85.6" y2="29.6" stroke-width="2"/>
<line x1="115.3" y1="29.6" x2="141" y2="29.6" stroke-width="2" stroke-dasharray="8 9.2 8.5 0"/>
<line x1="60.7" y1="48.5" x2="85.6" y2="48.5" stroke-width="0.9"/>
<line x1="115.3" y1="48.5" x2="141" y2="48.5" stroke-width="1.1" stroke-dasharray="1.5 1.1"/>
</g>
<g class="sf" font-size="11.2">
<text x="87.6" y="33.6">ΔT</text><text x="141.8" y="33.6">ΔT</text>
<text x="87.6" y="52.5">ΔT</text><text x="141.8" y="52.5">ΔT</text>
</g>
<g class="ss" font-size="6.3">
<text x="100.4" y="28">P</text><text x="100.2" y="38.4">A</text>
<text x="154.4" y="28">P</text><text x="154.2" y="38.4">O</text>
<text x="100.2" y="57.3">A</text><text x="154.2" y="57.3">O</text>
</g>
</svg>
</body></html>
